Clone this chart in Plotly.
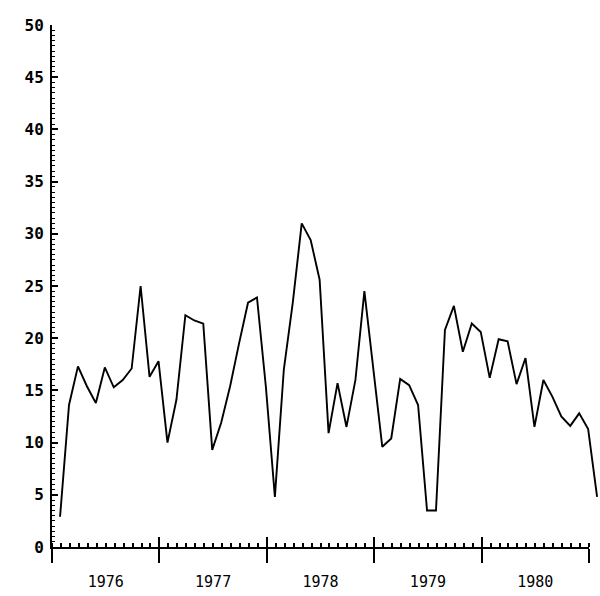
import plotly.graph_objects as go

# Monthly values, Jan 1976 .. Jan 1981 (point i sits at the end of month i)
values = [2.9, 13.6, 17.3, 15.4, 13.8, 17.2, 15.3, 16.0, 17.1, 25.0,
          16.3, 17.8, 10.0, 14.1, 22.2, 21.7, 21.4, 9.3, 11.9, 15.4,
          19.5, 23.4, 23.9, 15.3, 4.8, 17.0, 23.4, 31.0, 29.4, 25.6,
          10.9, 15.7, 11.5, 16.0, 24.5, 17.0, 9.6, 10.4, 16.1, 15.5,
          13.6, 3.5, 3.5, 20.8, 23.1, 18.7, 21.4, 20.6, 16.2, 19.9,
          19.7, 15.6, 18.1, 11.5, 16.0, 14.4, 12.5, 11.6, 12.8, 11.3,
          4.8]
months = [i + 0.9 for i in range(len(values))]

years = ["1976", "1977", "1978", "1979", "1980"]
year_bounds = [0, 12, 24, 36, 48, 60]
year_mids = [6, 18, 30, 42, 54]
y_ticks = [0, 5, 10, 15, 20, 25, 30, 35, 40, 45, 50]
y_labels = ["0", "5", "10", "15", "20", "25", "30", "35", "40", "45", "50"]

fig = go.Figure()
# invisible anchors so the display axes are drawn
for ax in ["x2", "x3", "x4"]:
    fig.add_trace(go.Scatter(x=[30], y=[-100], xaxis=ax, yaxis="y", mode="markers",
                             marker=dict(opacity=0), showlegend=False,
                             hoverinfo="skip"))
fig.add_trace(go.Scatter(x=months, y=values, mode="lines", xaxis="x", yaxis="y",
                         line=dict(color="black", width=1.9),
                         showlegend=False, hoverinfo="skip"))

W_DATA = 61.0
dom_end = 60.0 / W_DATA

fig.update_layout(
    width=600, height=596,
    margin=dict(l=52, r=2, t=25, b=49, autoexpand=False),
    paper_bgcolor="white", plot_bgcolor="rgba(0,0,0,0)",
    xaxis=dict(domain=[0, 1], range=[0, W_DATA], visible=False, automargin=False),
    xaxis2=dict(domain=[0, dom_end], anchor="y", range=[0, 60], automargin=False,
                showline=True, linecolor="black", linewidth=2,
                showgrid=False, zeroline=False,
                tickmode="array", tickvals=year_bounds, showticklabels=False,
                ticks="outside", ticklen=14, tickwidth=2, tickcolor="black",
                minor=dict(dtick=1, tick0=0, ticks="inside", ticklen=4,
                           tickwidth=1.5, tickcolor="black", showgrid=False)),
    xaxis3=dict(domain=[0, dom_end], anchor="y", overlaying="x2", range=[0, 60],
                automargin=False,
                showline=False, showgrid=False, zeroline=False,
                tickmode="array", tickvals=year_bounds, showticklabels=False,
                ticks="inside", ticklen=10, tickwidth=2, tickcolor="black"),
    xaxis4=dict(domain=[0, dom_end], anchor="y", overlaying="x2", range=[0, 60],
                automargin=False,
                showline=False, showgrid=False, zeroline=False,
                tickmode="array", tickvals=year_mids, ticktext=years,
                ticks="", ticklabelstandoff=24,
                tickfont=dict(family="DejaVu Sans Mono", size=15, color="black")),
    yaxis=dict(range=[0, 50], showline=True, linecolor="black", linewidth=2,
               automargin=False, anchor="x2", side="left",
               showgrid=False, zeroline=False,
               tickmode="array", tickvals=y_ticks, ticktext=y_labels,
               ticks="inside", ticklen=6, tickwidth=2, tickcolor="black",
               ticklabelstandoff=3,
               tickfont=dict(family="DejaVu Sans Mono", size=16, color="black",
                             weight="bold"),
               minor=dict(dtick=0.5, tick0=0, ticks="inside", ticklen=3,
                          tickwidth=1.2, tickcolor="black", showgrid=False)),
)

fig.write_html("out.html", config={"displayModeBar": False},
               post_script="document.body.style.margin='0';")
